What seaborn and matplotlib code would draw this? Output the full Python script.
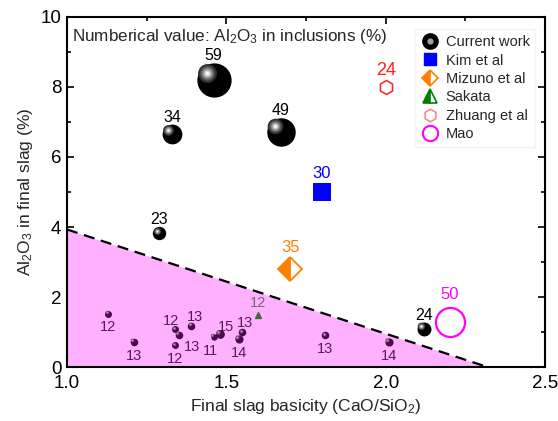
import numpy as np
import pandas as pd
import matplotlib
matplotlib.use('Agg')
import matplotlib.pyplot as plt
import matplotlib.transforms as mtransforms
from matplotlib.lines import Line2D
from matplotlib.legend_handler import HandlerTuple
import seaborn as sns

# current work, big balls
cw_x = [1.46, 1.33, 1.67, 1.29, 2.12]
cw_y = [8.20, 6.65, 6.72, 3.82, 1.08]
cw_val = [59, 34, 49, 23, 24]

# current work, small balls below the line
sm_x = [1.13, 1.21, 1.34, 1.35, 1.34, 1.39, 1.46, 1.48, 1.55, 1.54, 1.81, 2.01]
sm_y = [1.53, 0.72, 1.09, 0.93, 0.63, 1.18, 0.87, 0.94, 1.00, 0.81, 0.91, 0.72]
sm_val = [12, 13, 12, 13, 12, 13, 11, 15, 13, 14, 13, 14]
sm_off = [(0, -10), (0, -10), (-3, 5.5), (10, -9), (0, -10), (3, 6),
          (-2, -10), (4, 5), (2, 6.5), (0, -10), (0, -10), (0, -10)]

# literature
kim_x, kim_y, kim_val = [1.80], [5.0], [30]
miz_x, miz_y, miz_val = [1.70], [2.80], [35]
sak_x, sak_y, sak_val = [1.60], [1.50], [12]
zhu_x, zhu_y, zhu_val = [2.00], [8.00], [24]
mao_x, mao_y, mao_val = [2.20], [1.28], [50]

# boundary line
line_x = [1.0, 2.32]
line_y = [3.93, 0.0]

K = 0.175  # marker area per value^2

sns.set_style('ticks')
plt.rcParams['font.family'] = ['Liberation Sans', 'DejaVu Sans']
plt.rcParams['mathtext.default'] = 'regular'
plt.rcParams['xtick.direction'] = 'in'
plt.rcParams['ytick.direction'] = 'in'

fig = plt.figure(figsize=(5.58, 4.21), dpi=100)
ax = fig.add_axes([0.120, 0.128, 0.857, 0.832])

ax.fill_between(line_x, line_y, 0, color='#ffb0ff', lw=0, zorder=1)
ax.plot(line_x, line_y, ls=(0, (5, 3)), color='black', lw=1.6, zorder=2)


def balls(xs, ys, vals, base, layers):
    for x, y, v in zip(xs, ys, vals):
        s = K * v ** 2
        d = np.sqrt(s)
        ax.scatter([x], [y], s=s, color=base, lw=0, zorder=4)
        for frac, col in layers:
            tr = mtransforms.offset_copy(ax.transData, fig=fig, x=-0.2 * d, y=0.2 * d, units='points')
            ax.scatter([x], [y], s=s * frac ** 2, color=col, lw=0, zorder=5, transform=tr)


balls(cw_x, cw_y, cw_val, 'black',
      [(0.55, '#303030'), (0.42, '#606060'), (0.3, '#9a9a9a'), (0.18, '#d8d8d8'), (0.08, 'white')])
balls(sm_x, sm_y, sm_val, '#4a0a4a',
      [(0.5, '#7a407a'), (0.25, '#c8a0c8')])

for x, y, v in zip(cw_x, cw_y, cw_val):
    r = np.sqrt(K) * v / 2
    ax.annotate(str(v), (x, y), xytext=(0, r - 0.5), textcoords='offset points',
                ha='center', va='bottom', fontsize=11.5, color='black', zorder=6)
for x, y, v, (dx, dy) in zip(sm_x, sm_y, sm_val, sm_off):
    ax.annotate(str(v), (x, y), xytext=(dx, dy), textcoords='offset points',
                ha='center', va='center', fontsize=10.5, color='#5a1a5a', zorder=6)

sns.scatterplot(x=kim_x, y=kim_y, marker='s', size=kim_val,
                sizes=(K * kim_val[0] ** 2, K * kim_val[0] ** 2),
                color='#0000ff', linewidth=0, legend=False, ax=ax, zorder=4)
ax.plot(miz_x, miz_y, marker='D', ms=12.5, fillstyle='left', color='#ff8000',
        markerfacecoloralt='white', mec='#ff8000', mew=1.3, ls='none', zorder=4)
ax.plot(sak_x, sak_y, marker='^', ms=np.sqrt(K) * sak_val[0], color='#3d6b3d',
        mec='#3d6b3d', ls='none', zorder=4)
ax.plot(zhu_x, zhu_y, marker='h', ms=np.sqrt(K) * zhu_val[0], mfc='none', mec='#ff2020',
        mew=1.1, ls='none', zorder=4)
ax.plot(mao_x, mao_y, marker='o', ms=np.sqrt(K) * mao_val[0], mfc='none', mec='#ff00ff',
        mew=1.6, ls='none', zorder=4)

lit = [(kim_x, kim_y, kim_val, '#0000ff', 8, 12), (miz_x, miz_y, miz_val, '#ff8000', 10, 12),
       (sak_x, sak_y, sak_val, '#707070', 3, 10.5), (zhu_x, zhu_y, zhu_val, '#ff2020', 6, 13),
       (mao_x, mao_y, mao_val, '#ff00ff', 14.5, 12)]
for xs, ys, vs, col, r, fs in lit:
    ax.annotate(str(vs[0]), (xs[0], ys[0]), xytext=(0, r), textcoords='offset points',
                ha='center', va='bottom', fontsize=fs, color=col, zorder=6)

ax.text(1.015, 9.45, 'Numberical value: Al$_2$O$_3$ in inclusions (%)', fontsize=12.3,
        ha='left', va='center')

ax.set_xlim(1.0, 2.5)
ax.set_ylim(0, 10)
ax.set_xticks([1.0, 1.5, 2.0, 2.5])
ax.set_xticks([1.25, 1.75, 2.25], minor=True)
ax.set_yticks([0, 2, 4, 6, 8, 10])
ax.set_yticks([1, 3, 5, 7, 9], minor=True)
ax.xaxis.set_major_formatter(matplotlib.ticker.FormatStrFormatter('%.1f'))
ax.tick_params(which='both', top=True, right=True, labelsize=13.5, width=1.2, colors='black')
ax.tick_params(which='major', length=5)
ax.tick_params(which='minor', length=3)
ax.tick_params(axis='x', which='major', pad=6)
ax.tick_params(axis='y', which='major', pad=4)
for sp in ax.spines.values():
    sp.set_linewidth(1.5)
    sp.set_color('black')
ax.set_xlabel('Final slag basicity (CaO/SiO$_2$)', fontsize=12.5, labelpad=3)
ax.set_ylabel('Al$_2$O$_3$ in final slag (%)', fontsize=12.5, labelpad=4)

h_cw = (Line2D([], [], marker='o', color='black', ms=11, ls='none'),
        Line2D([], [], marker='o', color='#a0a0a0', ms=3.5, ls='none'))
h_kim = Line2D([], [], marker='s', color='#0000ff', ms=9, ls='none')
h_miz = Line2D([], [], marker='D', color='#ff8000', fillstyle='left', markerfacecoloralt='white',
               ms=8, mew=1.2, ls='none')
h_sak = Line2D([], [], marker='^', color='#008000', fillstyle='left', markerfacecoloralt='white',
               ms=10, mew=1.2, ls='none')
h_zhu = Line2D([], [], marker='h', mfc='none', mec='#ff8080', ms=9, mew=1.1, ls='none')
h_mao = Line2D([], [], marker='o', mfc='none', mec='#ff00ff', ms=11, mew=1.5, ls='none')
leg = ax.legend([h_cw, h_kim, h_miz, h_sak, h_zhu, h_mao],
                ['Current work', 'Kim et al', 'Mizuno et al', 'Sakata', 'Zhuang et al', 'Mao'],
                handler_map={tuple: HandlerTuple(ndivide=1)},
                loc='upper right', bbox_to_anchor=(0.995, 0.985), fontsize=10.5,
                frameon=True, framealpha=1, edgecolor='#f4f4f4', fancybox=False,
                handlelength=1.2, handletextpad=0.5, labelspacing=0.3, borderpad=0.4)

fig.savefig('out.png', dpi=100)
